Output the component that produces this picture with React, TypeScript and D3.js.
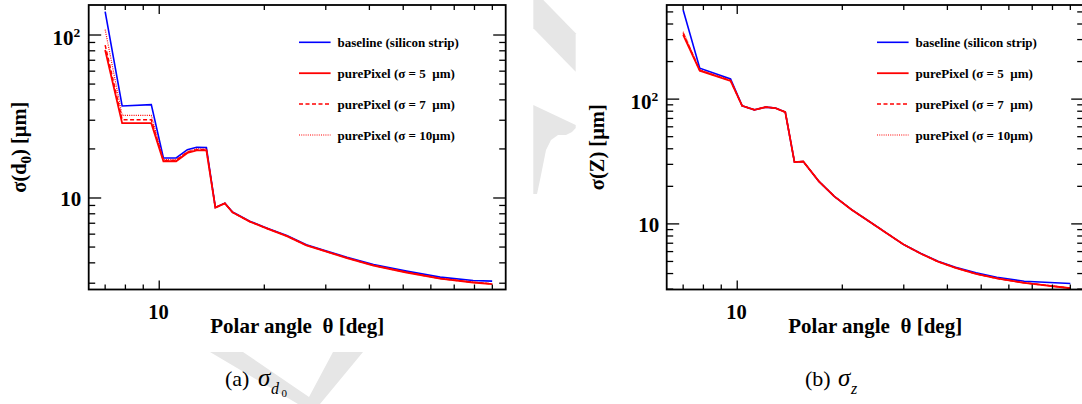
import React from "react";
import * as d3 from "d3";

// ---------- data ----------
const THETA_D0 = [7, 7.83, 9.49, 10.28, 11.18, 12.04, 12.8, 13.65, 14.48, 15.42, 16.22, 18.17, 20.3, 23.2, 26.4, 29.5, 34.5, 41.1, 51.1, 63.8, 79.3, 89.9];
const D0_BASELINE = [139, 36.7, 37.4, 17.6, 17.6, 19.8, 20.5, 20.4, 8.76, 9.3, 8.2, 7.2, 6.55, 5.88, 5.16, 4.79, 4.33, 3.91, 3.56, 3.27, 3.12, 3.09];
const D0_PURE5 = [80.9, 28.8, 28.8, 16.8, 16.8, 18.9, 19.6, 19.6, 8.72, 9.26, 8.16, 7.16, 6.51, 5.84, 5.12, 4.75, 4.28, 3.85, 3.49, 3.2, 3.03, 2.96];
const D0_PURE7 = [86.7, 30.2, 30.2, 17.0, 17.0, 19.1, 19.8, 19.8, 8.73, 9.27, 8.17, 7.17, 6.52, 5.85, 5.13, 4.76, 4.29, 3.86, 3.5, 3.21, 3.04, 2.97];
const D0_PURE10 = [108, 32.1, 32.1, 17.2, 17.2, 19.3, 20.0, 20.0, 8.74, 9.28, 8.18, 7.18, 6.53, 5.86, 5.14, 4.77, 4.3, 3.87, 3.51, 3.22, 3.05, 2.98];

const THETA_Z = [7, 7.81, 9.57, 10.33, 11.2, 12.08, 12.87, 13.73, 14.59, 15.46, 17.14, 18.97, 21.26, 23.84, 26.73, 29.97, 33.6, 37.6, 42.2, 48.3, 55.4, 66.4, 90];
const Z_BASELINE = [518, 177, 145, 88.4, 82.1, 86.3, 84.7, 78.7, 31.3, 31.6, 21.9, 16.6, 13.0, 10.5, 8.47, 6.83, 5.79, 5.02, 4.5, 4.05, 3.74, 3.47, 3.33];
const Z_PURE5 = [327, 169, 140, 88.4, 82.1, 86.3, 84.7, 78.7, 31.3, 31.6, 21.9, 16.6, 13.0, 10.5, 8.47, 6.83, 5.77, 4.98, 4.45, 3.98, 3.66, 3.37, 3.05];
const Z_PURE7 = [337, 170, 141, 88.4, 82.1, 86.3, 84.7, 78.7, 31.3, 31.6, 21.9, 16.6, 13.0, 10.5, 8.47, 6.83, 5.77, 4.98, 4.45, 3.98, 3.66, 3.37, 3.05];
const Z_PURE10 = [347, 172, 142, 88.4, 82.1, 86.3, 84.7, 78.7, 31.3, 31.6, 21.9, 16.6, 13.0, 10.5, 8.47, 6.83, 5.78, 4.99, 4.46, 3.99, 3.67, 3.38, 3.06];

const LEGEND_LABELS = [
  "baseline (silicon strip)",
  "purePixel (σ = 5  μm)",
  "purePixel (σ = 7  μm)",
  "purePixel (σ = 10μm)",
];
const X_LABEL_TICKS = [10];
const Y_LABEL_TICKS = [10, 100];
const X_TITLE = "Polar angle  θ [deg]";
const X_DOMAIN = [6.28, 98.3];
const D0_Y_DOMAIN = [2.745, 152.8];
const Z_Y_DOMAIN = [2.98, 568];

// ---------- styles ----------
const SERIES_STYLE = [
  { color: "#0000ff", width: 1.6, dash: "" },
  { color: "#ff0000", width: 1.8, dash: "" },
  { color: "#ff0000", width: 1.5, dash: "4,2.5" },
  { color: "#ff0000", width: 1.2, dash: "1,1.2" },
];
const FONT = "'Liberation Serif', 'Times New Roman', serif";
const WM = "#e6e6e6";

type PanelProps = {
  dx: number;
  theta: number[];
  series: number[][];
  yDomain: number[];
  yTitle: React.ReactNode;
  caption: React.ReactNode;
};

function Panel({ dx, theta, series, yDomain, yTitle, caption }: PanelProps) {
  const L = 88.7 + dx;
  const R = 505.7 + dx;
  const T = 5;
  const B = 289.5;
  const x = d3.scaleLog().domain(X_DOMAIN).range([L, R]);
  const y = d3.scaleLog().domain(yDomain).range([B, T]);

  const xTicks = x.ticks().filter((t) => t >= X_DOMAIN[0] && t <= X_DOMAIN[1]);
  const yTicks = y.ticks().filter((t) => t >= yDomain[0] && t <= yDomain[1]);
  const isMajor = (t: number) => Math.abs(Math.log10(t) - Math.round(Math.log10(t))) < 1e-6;

  const line = d3
    .line<number>()
    .x((_, i) => x(theta[i]))
    .y((d) => y(d));

  const order = [0, 3, 2, 1];

  return (
    <g>
      {order.map((si) => (
        <path
          key={si}
          d={line(series[si]) || ""}
          fill="none"
          stroke={SERIES_STYLE[si].color}
          strokeWidth={SERIES_STYLE[si].width}
          strokeDasharray={SERIES_STYLE[si].dash || undefined}
        />
      ))}

      {xTicks.map((t) => {
        const len = isMajor(t) ? 9 : 5;
        return (
          <g key={"x" + t}>
            <line x1={x(t)} x2={x(t)} y1={B} y2={B - len} stroke="#000" strokeWidth={1.3} />
            <line x1={x(t)} x2={x(t)} y1={T} y2={T + len} stroke="#000" strokeWidth={1.3} />
          </g>
        );
      })}
      {yTicks.map((t) => {
        const len = isMajor(t) ? 12.5 : 6.5;
        return (
          <g key={"y" + t}>
            <line x1={L} x2={L + len} y1={y(t)} y2={y(t)} stroke="#000" strokeWidth={1.3} />
            <line x1={R} x2={R - len} y1={y(t)} y2={y(t)} stroke="#000" strokeWidth={1.3} />
          </g>
        );
      })}

      <rect x={L} y={T} width={R - L} height={B - T} fill="none" stroke="#000" strokeWidth={1.8} />

      {X_LABEL_TICKS.map((t) => (
        <text key={"xl" + t} x={x(t) - 0.8} y={319.3} textAnchor="middle" fontFamily={FONT} fontWeight="bold" fontSize={20.5}>
          {t}
        </text>
      ))}
      {Y_LABEL_TICKS.filter((t) => t >= yDomain[0] && t <= yDomain[1]).map((t) =>
        t === 10 ? (
          <text key={"yl" + t} x={L - 7.5} y={y(t) + 8.4} textAnchor="end" fontFamily={FONT} fontWeight="bold" fontSize={21}>
            10
          </text>
        ) : (
          <text key={"yl" + t} x={L - 8.5} y={y(t) + 9.5} textAnchor="end" fontFamily={FONT} fontWeight="bold" fontSize={21}>
            10
            <tspan fontSize={13.5} dy={-8}>
              {Math.round(Math.log10(t))}
            </tspan>
          </text>
        )
      )}

      <text x={(L + R) / 2} y={332.7} textAnchor="middle" fontFamily={FONT} fontWeight="bold" fontSize={21} style={{ whiteSpace: "pre" }}>
        {X_TITLE}
      </text>
      <text
        transform={`translate(${L - 62.7},${(T + B) / 2}) rotate(-90)`}
        textAnchor="middle"
        fontFamily={FONT}
        fontWeight="bold"
        fontSize={20.5}
      >
        {yTitle}
      </text>

      {LEGEND_LABELS.map((lab, i) => {
        const ry = 42.3 + 30.9 * i;
        const st = SERIES_STYLE[i];
        return (
          <g key={"lg" + i}>
            <line x1={L + 210.3} x2={L + 241.9} y1={ry} y2={ry} stroke={st.color} strokeWidth={st.width} strokeDasharray={st.dash || undefined} />
            <text x={L + 248.8} y={ry + 4.5} fontFamily={FONT} fontWeight="bold" fontSize={13} style={{ whiteSpace: "pre" }}>
              {lab}
            </text>
          </g>
        );
      })}

      <g transform={`translate(${dx},0)`}>{caption}</g>
    </g>
  );
}

export default function App() {
  return (
    <svg
      width={1082}
      height={404}
      viewBox="0 0 1082 404"
      style={{ position: "absolute", left: 0, top: 0, background: "#fff" }}
    >
      <rect x={0} y={0} width={1082} height={404} fill="#fff" />
      <polygon points="533.3,0 543.3,0 575.7,33.3 575.7,71.7 533.3,28.3" fill={WM} />
      <polygon
        points="533.3,105 575.7,125 575.7,128 572,132 566,135 558,135 551,140 546,150 543,165 540,180 537,194 533.3,194"
        fill={WM}
      />
      <polygon points="210,352 243,352 309,397 333,352 363,352 320,404 298,404" fill={WM} />

      <Panel
        dx={0}
        theta={THETA_D0}
        series={[D0_BASELINE, D0_PURE5, D0_PURE7, D0_PURE10]}
        yDomain={D0_Y_DOMAIN}
        yTitle={
          <>
            σ(d<tspan fontSize={15} dy={5}>0</tspan>
            <tspan dy={-5}>) [μm]</tspan>
          </>
        }
        caption={
          <g fontFamily={FONT}>
            <text x={225} y={386} fontSize={22}>(a)</text>
            <text x={258} y={386} fontSize={25} fontStyle="italic">σ</text>
            <text x={271} y={394} fontSize={16} fontStyle="italic">d</text>
            <text x={281.5} y={396.5} fontSize={11}>0</text>
          </g>
        }
      />
      <Panel
        dx={578}
        theta={THETA_Z}
        series={[Z_BASELINE, Z_PURE5, Z_PURE7, Z_PURE10]}
        yDomain={Z_Y_DOMAIN}
        yTitle={<>σ(Z) [μm]</>}
        caption={
          <g fontFamily={FONT}>
            <text x={227} y={386} fontSize={22}>(b)</text>
            <text x={260} y={386} fontSize={25} fontStyle="italic">σ</text>
            <text x={273} y={394} fontSize={16} fontStyle="italic">z</text>
          </g>
        }
      />
    </svg>
  );
}
